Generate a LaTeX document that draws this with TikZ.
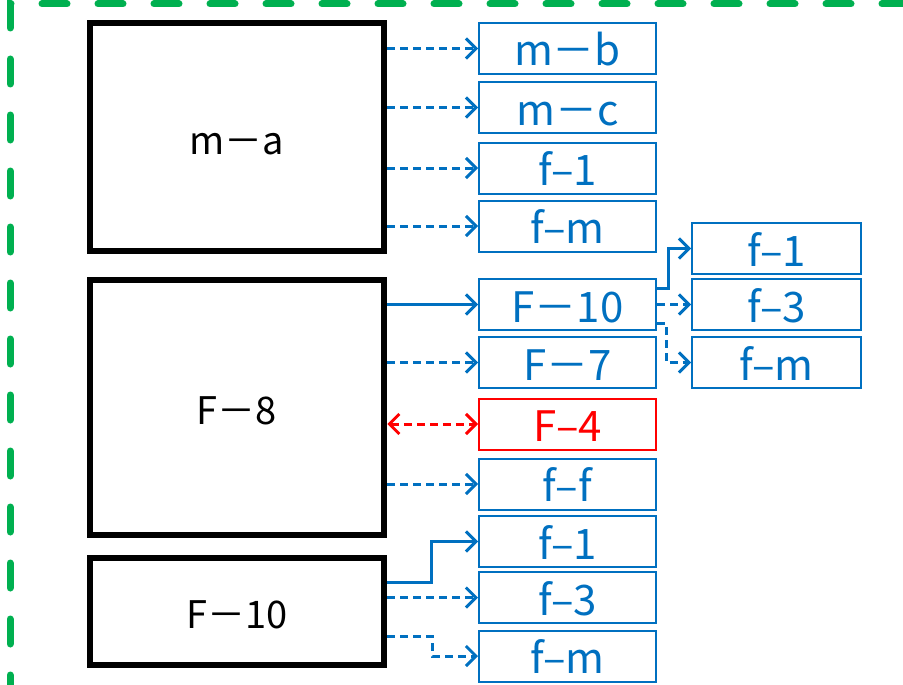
\documentclass[tikz,border=0pt]{standalone}
\usepackage{fontspec}
\setmainfont{Noto Sans CJK JP}
\usetikzlibrary{arrows.meta,positioning}
\definecolor{boxblue}{HTML}{0070C0}
\definecolor{framegreen}{HTML}{00B050}

\begin{document}
\begin{tikzpicture}[x=1pt, y=-1pt,
    bigbox/.style={draw=black, line width=6pt, minimum width=294.5pt, inner sep=0pt, text height=38pt, text depth=4pt, font=\fontsize{38}{44}\selectfont},
    refbox/.style={draw=boxblue, text=boxblue, line width=2pt, minimum width=177pt, minimum height=51pt, inner sep=0pt, text height=40pt, text depth=5pt, font=\fontsize{42}{48}\selectfont},
    subbox/.style={refbox, minimum width=169pt},
    link/.style={draw=boxblue, line width=3pt, -{Straight Barb[length=10pt,width=20pt]}},
    dlink/.style={link, dash pattern=on 8pt off 5pt}]
    \useasboundingbox (0,0) rectangle (903,685);

    % outer frame
    \draw[framegreen, line width=7pt, line cap=round, dash pattern=on 25pt off 31pt] (10,700) |- (920,4);

    % source boxes
    \node[bigbox, minimum height=228pt] (ma) at (237,137) {m－a};
    \node[bigbox, minimum height=255pt] (feight) at (237,407.5) {F－8};
    \node[bigbox, minimum height=107pt] (ften) at (237,611.5) {F－10};

    % referenced boxes
    \node[refbox] (mb) at (567.5,48.5) {m－b};
    \node[refbox] (mc) at (567.5,107.5) {m－c};
    \node[refbox] (fa1) at (567.5,168) {f–1};
    \node[refbox] (fam) at (567.5,226) {f–m};
    \node[refbox] (g10) at (567.5,304.5) {F－10};
    \node[refbox] (g7) at (567.5,362.5) {F－7};
    \node[refbox, draw=red, text=red] (g4) at (567.5,424) {F–4};
    \node[refbox] (gf) at (567.5,484) {f–f};
    \node[refbox] (h1) at (567.5,541.5) {f–1};
    \node[refbox] (h3) at (567.5,597.5) {f–3};
    \node[refbox] (hm) at (567.5,656) {f–m};

    % second level
    \node[subbox] (s1) at (776.5,248.5) {f–1};
    \node[subbox] (s3) at (776.5,304.5) {f–3};
    \node[subbox] (sm) at (776.5,362.5) {f–m};

    % links of m-a
    \foreach \t in {mb,mc,fa1,fam}
        \draw[dlink] (ma.east |- \t.west) -- (\t.west);

    % links of F-8
    \draw[link] (feight.east |- g10.west) -- (g10.west);
    \foreach \t in {g7,gf}
        \draw[dlink] (feight.east |- \t.west) -- (\t.west);
    \draw[dlink, draw=red, {Straight Barb[length=10pt,width=20pt]}-{Straight Barb[length=10pt,width=20pt]}] (feight.east |- g4.west) -- (g4.west);

    % links of F-10
    \draw[link] ([yshift=29.5pt]ften.east) -- ++(44,0) |- (h1.west);
    \draw[dlink] (ften.east |- h3.west) -- (h3.west);
    \draw[dlink] ([yshift=-24.5pt]ften.east) -- ++(45,0) |- (hm.west);

    % links of the inner F-10
    \draw[link] ([yshift=16.5pt]g10.east) -- ++(11,0) |- (s1.west);
    \draw[dlink] (g10.east) -- (s3.west);
    \draw[dlink] ([yshift=-18.5pt]g10.east) -- ++(9,0) |- (sm.west);
\end{tikzpicture}
\end{document}
